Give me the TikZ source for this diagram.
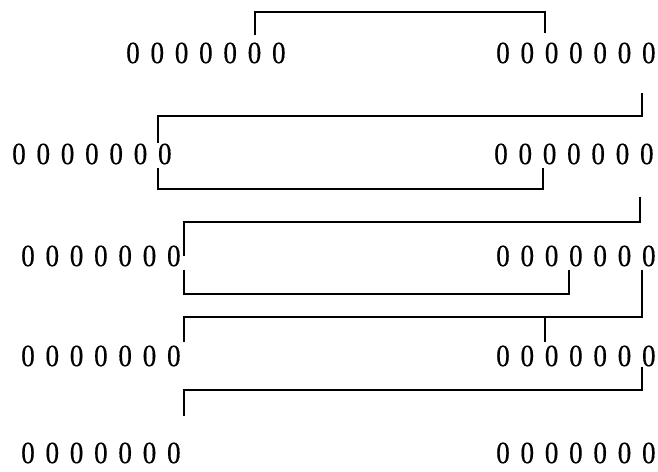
\documentclass[tikz,border=0pt]{standalone}
\usepackage{fontspec}
\newfontfamily\digitfont[FakeStretch=0.88, FakeBold=0.4]{Liberation Serif}

\tikzset{
  digit/.style={inner sep=0pt, font=\digitfont\fontsize{31}{31}\selectfont},
  wire/.style={draw, line width=2pt, shorten <=3.5pt, shorten >=3.5pt}
}

\begin{document}
\begin{tikzpicture}[x=1pt, y=-1pt]
    \useasboundingbox (0,0) rectangle (658,471);

    % Linhas de zeros: linha/y/inicio esquerda/inicio direita
    \foreach \r/\y/\xl/\xr in {1/53/133/503, 2/154/19/501, 3/256/28/503, 4/356/28/503, 5/453/28/503}
      \foreach \k in {1,...,7} {
        \node[digit] (L\r-\k) at ({\xl+24.3*(\k-1)},\y) {0};
        \node[digit] (R\r-\k) at ({\xr+24.3*(\k-1)},\y) {0};
      };

    % Primeira ligacao
    \draw[wire, shorten <=7pt, shorten >=9pt] (L1-6.north) -- ++(0,-30) -| (R1-3.north west);

    % Segunda e terceira
    \draw[wire, shorten <=29pt, shorten >=0pt] (R1-7.south west) -- ++(0,52.6) -| (L2-7.north west);
    \draw[wire] (L2-7.south west) -- ++(0,24.6) -| (R2-3.south west);

    % Quarta e quinta
    \draw[wire, shorten <=32pt, shorten >=0pt] (R2-7.south west) -- ++(0,57.6) -| ([xshift=3pt]L3-7.east);
    \draw[wire] ([xshift=3pt]L3-7.south east) -- ++(0,27.6) -| (R3-4.south west);

    % Sexta, com ramo
    \draw[wire] (R3-7.south west) -- ++(0,50.6) coordinate (fork) -| ([xshift=3pt]L4-7.north east);
    \draw[wire, shorten <=0pt] (R4-3.north west |- fork) -- (R4-3.north west);

    % Ultima
    \draw[wire, shorten <=0pt, shorten >=26.5pt] (R4-7.south west) -- ++(0,23.6) -| ([xshift=3pt]L5-7.north east);
\end{tikzpicture}
\end{document}
